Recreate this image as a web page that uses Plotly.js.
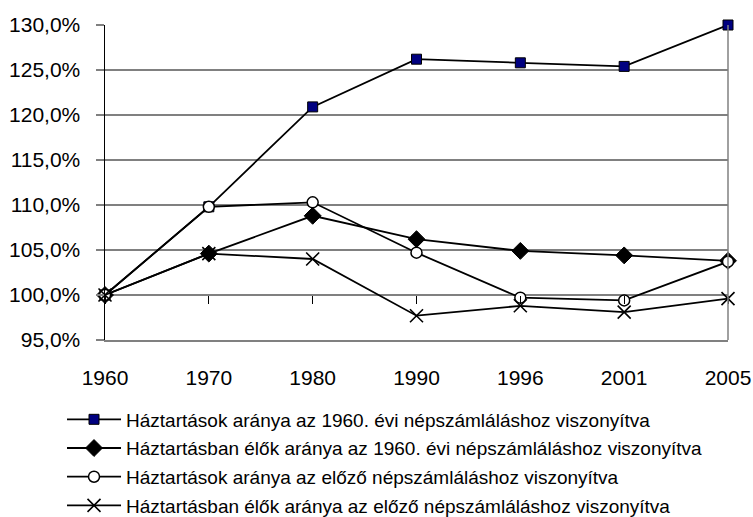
<!DOCTYPE html>
<html>
<head>
<meta charset="utf-8">
<script src="https://cdn.plot.ly/plotly-3.0.1.min.js"></script>
<style>html,body{margin:0;padding:0;background:#fff;}#chart{width:753px;height:517px;}</style>
</head>
<body>
<div id="chart"></div>
<script>
const years = ['1960', '1970', '1980', '1990', '1996', '2001', '2005'];
const households1960 = [100, 109.8, 120.9, 126.2, 125.8, 125.4, 130.0];
const persons1960 = [100, 104.6, 108.8, 106.2, 104.9, 104.4, 103.8];
const householdsPrev = [100, 109.8, 110.3, 104.7, 99.7, 99.4, 103.7];
const personsPrev = [100, 104.6, 104.0, 97.7, 98.8, 98.1, 99.6];
const names = [
  'Háztartások aránya az 1960. évi népszámláláshoz viszonyítva',
  'Háztartásban élők aránya az 1960. évi népszámláláshoz viszonyítva',
  'Háztartások aránya az előző népszámláláshoz viszonyítva',
  'Háztartásban élők aránya az előző népszámláláshoz viszonyítva'
];
const yTicks = [95, 100, 105, 110, 115, 120, 125, 130];
const yTickText = yTicks.map(v => v.toFixed(1).replace('.', ',') + '%');

const FONT = 'Arial, "Liberation Sans", sans-serif';
const line = {color: '#000000', width: 1.8};

const traces = [
  {x: years, y: households1960, name: names[0], legendgroup: 'a', type: 'scatter', mode: 'lines+markers', line: line, cliponaxis: false,
   marker: {symbol: 'square', size: 10, color: '#000080', line: {color: '#000000', width: 1}}},
  {x: years, y: persons1960, name: names[1], legendgroup: 'b', type: 'scatter', mode: 'lines+markers', line: line, cliponaxis: false,
   marker: {symbol: 'diamond', size: 13, color: '#000000', line: {color: '#000000', width: 1}}},
  {x: years, y: householdsPrev, name: names[2], legendgroup: 'c', type: 'scatter', mode: 'lines+markers', line: line, cliponaxis: false,
   marker: {symbol: 'circle', size: 11, color: '#ffffff', line: {color: '#000000', width: 1.5}}},
  {x: years, y: personsPrev, name: names[3], legendgroup: 'd', type: 'scatter', mode: 'lines+markers', line: line, cliponaxis: false,
   marker: {symbol: 'x-thin-open', size: 13, color: '#000000', line: {color: '#000000', width: 1.6}}},
  {x: years, y: years.map(() => null), xaxis: 'x2', yaxis: 'y', type: 'scatter', mode: 'lines',
   showlegend: false, hoverinfo: 'skip'}
];

const layout = {
  width: 753, height: 517,
  margin: {l: 105, r: 25, t: 25, b: 177},
  paper_bgcolor: '#ffffff', plot_bgcolor: '#ffffff',
  font: {family: FONT, size: 20, color: '#000000'},
  showlegend: true,
  xaxis: {
    type: 'category', range: [0, 6], categoryarray: years,
    showgrid: false, zeroline: false,
    showline: true, linecolor: '#808080', linewidth: 1.5,
    ticks: '', ticklabelstandoff: 18,
    tickfont: {family: FONT, size: 21, color: '#000000'}
  },
  xaxis2: {
    type: 'category', overlaying: 'x', anchor: 'free', position: 1 / 7,
    range: [0, 6], categoryarray: years,
    showgrid: false, zeroline: false, showline: false,
    ticks: 'outside', ticklen: 8, tickcolor: '#000000', tickwidth: 1,
    showticklabels: false
  },
  yaxis: {
    range: [95, 130], tickvals: yTicks, ticktext: yTickText,
    showgrid: true, gridcolor: '#808080', gridwidth: 1.5,
    zeroline: false,
    showline: true, linecolor: '#000000', linewidth: 1.5,
    ticks: 'outside', ticklen: 8, tickcolor: '#808080', tickwidth: 1.5,
    ticklabelstandoff: 11,
    tickfont: {family: FONT, size: 21, color: '#000000'}
  },
  shapes: [
    {type: 'line', xref: 'paper', yref: 'paper', x0: 1, x1: 1, y0: 0, y1: 1,
     line: {color: '#808080', width: 1.5}}
  ],
  legend: {
    xref: 'paper', yref: 'container',
    x: -0.069, xanchor: 'left', y: 0.2254, yanchor: 'top',
    orientation: 'v', itemwidth: 54, traceorder: 'grouped', tracegroupgap: 1,
    font: {family: FONT, size: 19, color: '#000000'},
    bgcolor: 'rgba(0,0,0,0)', borderwidth: 0
  }
};

Plotly.newPlot('chart', traces, layout, {staticPlot: true, displayModeBar: false});
</script>
</body>
</html>
